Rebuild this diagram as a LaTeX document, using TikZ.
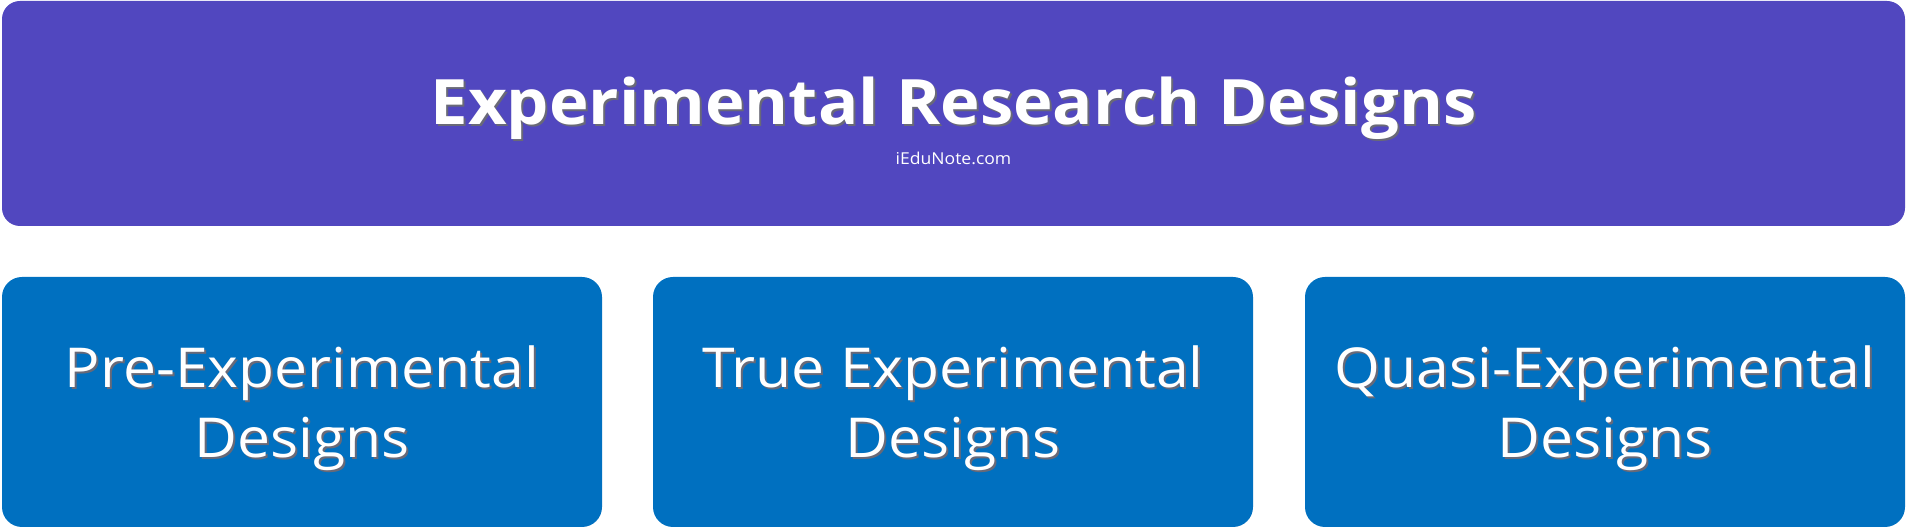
\documentclass[tikz,border=0pt]{standalone}
\usepackage{fontspec}
\setmainfont[FakeStretch=1.07]{Open Sans}
\definecolor{headpurple}{RGB}{81,71,191}
\definecolor{boxblue}{RGB}{0,112,192}
\definecolor{textshade}{RGB}{40,40,60}
% white text with a small drop shadow
\newcommand\shadowed[1]{\makebox[0pt][l]{\kern1pt\raisebox{-1pt}{\textcolor{textshade!70}{#1}}}#1}
\tikzset{
  headbox/.style={fill=headpurple, rounded corners=9pt, minimum width=951.5pt,
    minimum height=112.5pt, inner sep=0pt},
  designbox/.style={fill=boxblue, rounded corners=10pt, minimum width=300pt,
    minimum height=125pt, inner sep=0pt},
  designtext/.style={inner sep=0pt, align=center, text=white,
    font=\fontsize{27.5}{35}\selectfont},
  headtext/.style={anchor=base, text=white, inner sep=0pt},
}
\begin{document}
\begin{tikzpicture}[x=0.5pt,y=0.5pt]
\useasboundingbox (0,0) rectangle (1908,528);
% main heading
\node[headbox] (head) at (953.5,414.5) {};
\node[headtext, font=\fontsize{31.3}{36}\selectfont\bfseries] (headtitle) at (953.5,403) {\shadowed{Experimental Research Designs}};
\node[headtext, font=\fontsize{8.2}{10}\selectfont] (headurl) at (953.5,363) {iEduNote.com};
% the three kinds
\node[designbox] (pre) at (302,126) {};
\node[designbox] (true) at (953,126) {};
\node[designbox] (quasi) at (1605,126) {};
\node[designtext] (pretext) at ([yshift=-3.6pt]pre.center) {\shadowed{Pre-Experimental}\\\shadowed{Designs}};
\node[designtext] (truetext) at ([yshift=-3.6pt]true.center) {\shadowed{True Experimental}\\\shadowed{Designs}};
\node[designtext] (quasitext) at ([yshift=-3.6pt]quasi.center) {\shadowed{Quasi-Experimental}\\\shadowed{Designs}};
\end{tikzpicture}
\end{document}
